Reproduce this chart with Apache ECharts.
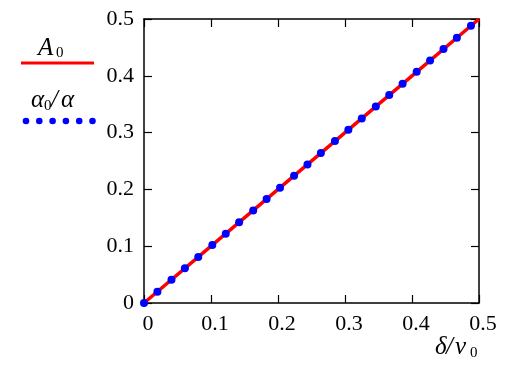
<!DOCTYPE html>
<html>
<head>
<meta charset="utf-8">
<script src="https://cdn.jsdelivr.net/npm/echarts@6/dist/echarts.min.js"></script>
<style>html,body{margin:0;padding:0;background:#fff;}#c{width:509px;height:377px;}</style>
</head>
<body>
<div id="c"></div>
<script>
// Data
var lineX = [0, 0.1, 0.2, 0.3, 0.4, 0.5];
var lineY = [0, 0.1, 0.2, 0.3, 0.4, 0.5];
var dotX = [0, 0.020, 0.041, 0.061, 0.081, 0.102, 0.122, 0.142, 0.163, 0.183, 0.203, 0.224, 0.244, 0.264, 0.285, 0.305, 0.325, 0.346, 0.366, 0.386, 0.407, 0.427, 0.447, 0.467, 0.488];
var dotY = [0, 0.020, 0.041, 0.061, 0.081, 0.102, 0.122, 0.142, 0.163, 0.183, 0.203, 0.224, 0.244, 0.264, 0.285, 0.305, 0.325, 0.346, 0.366, 0.386, 0.407, 0.427, 0.447, 0.467, 0.488];
var xTicks = ['0', '0.1', '0.2', '0.3', '0.4', '0.5'];
var yTicks = ['0', '0.1', '0.2', '0.3', '0.4', '0.5'];

var FONT = 'Liberation Serif';
var chart = echarts.init(document.getElementById('c'), null, {renderer: 'canvas'});

function pairs(xs, ys) { return xs.map(function (x, i) { return [x, ys[i]]; }); }
function mkLine() { return {show: true, onZero: false, lineStyle: {color: '#000', width: 1.5}}; }
function mkTick() { return {show: true, inside: true, length: 8, lineStyle: {color: '#000', width: 1.2}}; }
function mkAxis(pos, labels, padding) {
  return {
    type: 'value', show: true, min: 0, max: 0.5, interval: 0.1, position: pos,
    axisLine: mkLine(), axisTick: mkTick(), splitLine: {show: false},
    axisLabel: labels ? {show: true, fontFamily: FONT, fontSize: 22, color: '#000', margin: 10, padding: padding,
      formatter: function (v) { return labels[Math.round(v * 10)]; }} : {show: false}
  };
}

var legendDots = [];
for (var k = 0; k < 6; k++) {
  legendDots.push({type: 'circle', shape: {cx: 26 + k * 13.3, cy: 121, r: 3.3}, style: {fill: '#0000ff'}});
}
function txt(x, y, s, size, italic) {
  return {type: 'text', x: x, y: y, style: {text: s, fontFamily: FONT, fontSize: size,
    fontStyle: italic ? 'italic' : 'normal', fill: '#000'}};
}

chart.setOption({
  animation: false,
  grid: {left: 144, right: 30, top: 19, bottom: 74, containLabel: false},
  xAxis: [mkAxis('bottom', xTicks, [0, 0, 0, 8]), mkAxis('top', null)],
  yAxis: [mkAxis('left', yTicks, [8, 0, 0, 0]), mkAxis('right', null)],
  series: [{
    type: 'line', data: pairs(lineX, lineY), showSymbol: false, symbol: 'none',
    lineStyle: {color: '#ff0000', width: 3.5}, z: 2
  }, {
    type: 'scatter', data: pairs(dotX, dotY), symbol: 'circle', symbolSize: 8,
    itemStyle: {color: '#0000ff', opacity: 1}, z: 3
  }],
  graphic: [
    txt(38, 36, 'A', 25, true),
    txt(56, 46, '0', 15, false),
    {type: 'line', shape: {x1: 21, y1: 63, x2: 94, y2: 63}, style: {stroke: '#ff0000', lineWidth: 3}},
    txt(31, 88, 'α', 25, true),
    txt(44, 99, '0', 15, false),
    txt(51, 88, '/', 25, true),
    txt(61, 88, 'α', 25, true),
    txt(435, 335, 'δ', 25, true),
    txt(446, 335, '/', 25, true),
    txt(455, 335, 'ν', 25, true),
    txt(470, 346, '0', 15, false)
  ].concat(legendDots)
});
</script>
</body>
</html>
